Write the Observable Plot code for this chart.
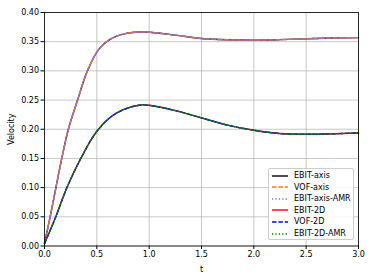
<!DOCTYPE html>
<html>
<head>
<meta charset="utf-8">
<script src="https://cdn.jsdelivr.net/npm/d3@7"></script>
<script src="https://cdn.jsdelivr.net/npm/@observablehq/plot@0.6"></script>
<style>
  html, body { margin: 0; padding: 0; background: #fff; }
  #wrap { position: relative; width: 374px; height: 280px; font-family: "DejaVu Sans", sans-serif; }
  #legend { position: absolute; left: 268px; top: 168px; width: 86px; height: 72px;
    background: rgba(255,255,255,0.8); border: 0.7px solid #cccccc; border-radius: 2px; box-sizing: border-box;
    font-size: 8px; color: #000; }
  .row { position: absolute; left: 0; height: 11px; display: flex; align-items: center; }
  .row svg { margin-left: 2px; margin-right: 5px; }
</style>
</head>
<body>
<div id="wrap"></div>
<script>
// axisymmetric cases (upper curve)
const tAxis = [0, 0.054, 0.109, 0.165, 0.228, 0.316, 0.41, 0.522, 0.634, 0.762, 0.9, 1.0, 1.25, 1.5, 1.75, 2.0, 2.25, 2.5, 2.75, 3.0];
const axisVelocity = [0.005, 0.05, 0.10, 0.15, 0.20, 0.25, 0.30, 0.3377, 0.3548, 0.3634, 0.3665, 0.3662, 0.3612, 0.3555, 0.3532, 0.3526, 0.3535, 0.355, 0.3562, 0.357];
// 2D cases (lower curve)
const t2D = [0, 0.108, 0.214, 0.347, 0.49, 0.633, 0.76, 0.92, 1.0, 1.25, 1.5, 1.75, 2.0, 2.25, 2.5, 2.75, 3.0];
const planarVelocity = [0.004, 0.05, 0.10, 0.15, 0.194, 0.221, 0.234, 0.2415, 0.241, 0.232, 0.2195, 0.207, 0.1983, 0.1926, 0.1914, 0.1922, 0.1937];

const seriesNames = ["EBIT-axis", "VOF-axis", "EBIT-axis-AMR", "EBIT-2D", "VOF-2D", "EBIT-2D-AMR"];
const seriesColors = ["#000000", "#ff7f0e", "#9370db", "#ff0000", "#0000ff", "#008000"];
const seriesDash = [null, "4.5,1.9", "1.3,2.1", null, "4.5,1.9", "1.3,2.1"];
const seriesT = [tAxis, tAxis, tAxis, t2D, t2D, t2D];
const seriesV = [axisVelocity, axisVelocity, axisVelocity, planarVelocity, planarVelocity, planarVelocity];

const xTicks = [0, 0.5, 1.0, 1.5, 2.0, 2.5, 3.0];
const yTicks = [0, 0.05, 0.10, 0.15, 0.20, 0.25, 0.30, 0.35, 0.40];

const lineMarks = seriesNames.map((name, i) => {
  const data = seriesT[i].map((t, j) => ({t, v: seriesV[i][j]}));
  return Plot.line(data, {x: "t", y: "v", stroke: seriesColors[i], strokeWidth: 1.4,
    strokeDasharray: seriesDash[i] || undefined, curve: "catmull-rom"});
});

const chart = Plot.plot({
  width: 374, height: 280,
  marginLeft: 44, marginRight: 16, marginTop: 12, marginBottom: 34.5,
  style: {fontFamily: "DejaVu Sans, sans-serif", fontSize: "8px", color: "#000", background: "#fff"},
  x: {domain: [0, 3]},
  y: {domain: [0, 0.4]},
  marks: [
    Plot.gridX(xTicks, {stroke: "#b0b0b0", strokeOpacity: 1, strokeWidth: 0.7}),
    Plot.gridY(yTicks, {stroke: "#b0b0b0", strokeOpacity: 1, strokeWidth: 0.7}),
    ...lineMarks,
    Plot.frame({stroke: "#000", strokeWidth: 0.8}),
    Plot.axisX(xTicks, {tickFormat: d3.format(".1f"), tickSize: 3.5, tickPadding: 2, fontSize: 8,
      label: "t", labelAnchor: "center", labelArrow: "none", labelOffset: 26}),
    Plot.axisY(yTicks, {tickFormat: d3.format(".2f"), tickSize: 3.5, tickPadding: 2, fontSize: 8,
      label: "Velocity", labelAnchor: "center", labelArrow: "none", labelOffset: 36})
  ]
});

const wrap = document.getElementById("wrap");
wrap.appendChild(chart);

const legend = document.createElement("div");
legend.id = "legend";
seriesNames.forEach((name, i) => {
  const row = document.createElement("div");
  row.className = "row";
  row.style.top = (1 + i * 11.6) + "px";
  const dash = seriesDash[i] ? `stroke-dasharray="${seriesDash[i]}"` : "";
  row.innerHTML = `<svg width="18" height="6"><line x1="1" y1="3" x2="17" y2="3" stroke="${seriesColors[i]}" stroke-width="1.4" ${dash}/></svg><span>${name}</span>`;
  legend.appendChild(row);
});
wrap.appendChild(legend);
</script>
</body>
</html>
